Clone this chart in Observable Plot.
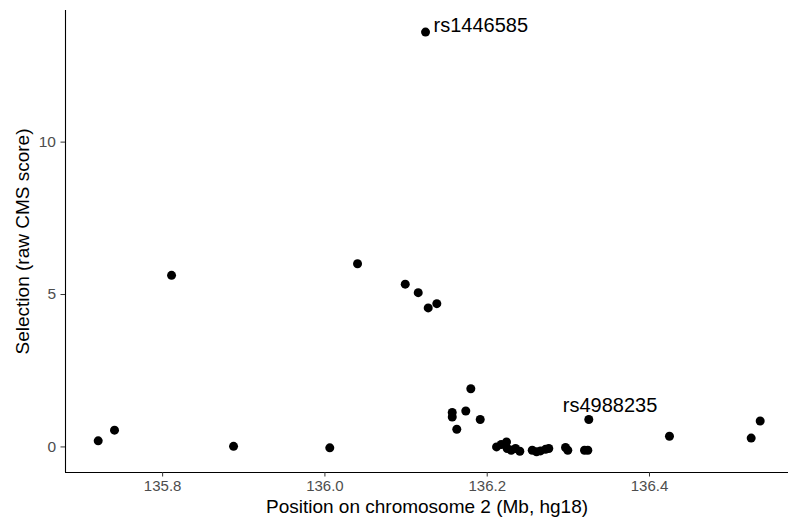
<!DOCTYPE html>
<html>
<head>
<meta charset="utf-8">
<script src="https://cdn.jsdelivr.net/npm/d3@7"></script>
<script src="https://cdn.jsdelivr.net/npm/@observablehq/plot@0.6"></script>
<style>
  html, body { margin: 0; padding: 0; background: #fff; }
  #chart { width: 788px; height: 522px; }
</style>
</head>
<body>
<div id="chart"></div>
<script>
// SNP positions (Mb, hg18) on chromosome 2 and their raw CMS selection scores
const positions = [
  135.7206, 135.7407, 135.8110, 135.8874, 136.0060, 136.0402, 136.0990, 136.1150,
  136.1273, 136.1379, 136.1240, 136.1798, 136.1569, 136.1569, 136.1736, 136.1914,
  136.1625, 136.3252, 136.4246, 136.5253, 136.5364,
  136.2115, 136.2173, 136.2238, 136.2246, 136.2296, 136.2349, 136.2402, 136.2555,
  136.2608, 136.2657, 136.2719, 136.2759, 136.2965, 136.2993, 136.3199, 136.3240
];
const scores = [
  0.20, 0.55, 5.63, 0.02, -0.03, 6.01, 5.34, 5.06,
  4.56, 4.70, 13.61, 1.91, 1.13, 0.98, 1.18, 0.90,
  0.58, 0.90, 0.35, 0.29, 0.85,
  0.00, 0.08, 0.16, -0.05, -0.11, -0.05, -0.14, -0.11,
  -0.16, -0.13, -0.08, -0.05, -0.02, -0.11, -0.11, -0.11
];
const snpIds = [
  "", "", "", "", "", "", "", "",
  "", "", "rs1446585", "", "", "", "", "",
  "", "rs4988235", "", "", "",
  "", "", "", "", "", "", "", "",
  "", "", "", "", "", "", "", ""
];

const xTicks = [135.8, 136.0, 136.2, 136.4];
const yTicks = [0, 5, 10];
const xTitle = "Position on chromosome 2 (Mb, hg18)";
const yTitle = "Selection (raw CMS score)";

const snps = positions.map((p, i) => ({pos: p, score: scores[i], id: snpIds[i]}));
const xDomain = [135.6803, 136.5713];
const yDomain = [-0.839, 14.318];

const font = "'Liberation Sans', Arial, sans-serif";

const chart = Plot.plot({
  width: 788,
  height: 522,
  marginLeft: 65,
  marginRight: 0,
  marginTop: 10,
  marginBottom: 50,
  style: {fontFamily: font, background: "#fff", overflow: "visible"},
  x: {domain: xDomain},
  y: {domain: yDomain},
  marks: [
    // axis lines (left and bottom)
    Plot.ruleX([xDomain[0]], {stroke: "#000", strokeWidth: 1.1}),
    Plot.ruleY([yDomain[0]], {stroke: "#000", strokeWidth: 1.1}),
    Plot.axisX({ticks: xTicks, tickFormat: d3.format(".1f"), tickSize: 4.5, tickPadding: 3,
      fontSize: 15, color: "#4d4d4d", stroke: "#333", label: null}),
    Plot.axisY({ticks: yTicks, tickSize: 4.5, tickPadding: 5,
      fontSize: 15.5, color: "#4d4d4d", stroke: "#333", label: null}),
    Plot.dot(snps, {x: "pos", y: "score", r: 4.5, fill: "#000", stroke: null}),
    // labelled SNPs
    Plot.text(snps.filter(d => d.id === "rs1446585"), {x: "pos", y: "score", text: "id",
      textAnchor: "start", dx: 8, dy: -6.4, fontSize: 20, fill: "#000"}),
    Plot.text(snps.filter(d => d.id === "rs4988235"), {x: "pos", y: "score", text: "id",
      textAnchor: "start", dx: -26, dy: -14, fontSize: 20, fill: "#000"}),
    // axis titles
    Plot.text([xTitle], {frameAnchor: "bottom", textAnchor: "middle", dy: 40, fontSize: 19, fill: "#000"}),
    Plot.text([yTitle], {frameAnchor: "left", textAnchor: "middle", dx: -43, rotate: -90, fontSize: 19, fill: "#000"})
  ]
});

document.getElementById("chart").appendChild(chart);
</script>
</body>
</html>
